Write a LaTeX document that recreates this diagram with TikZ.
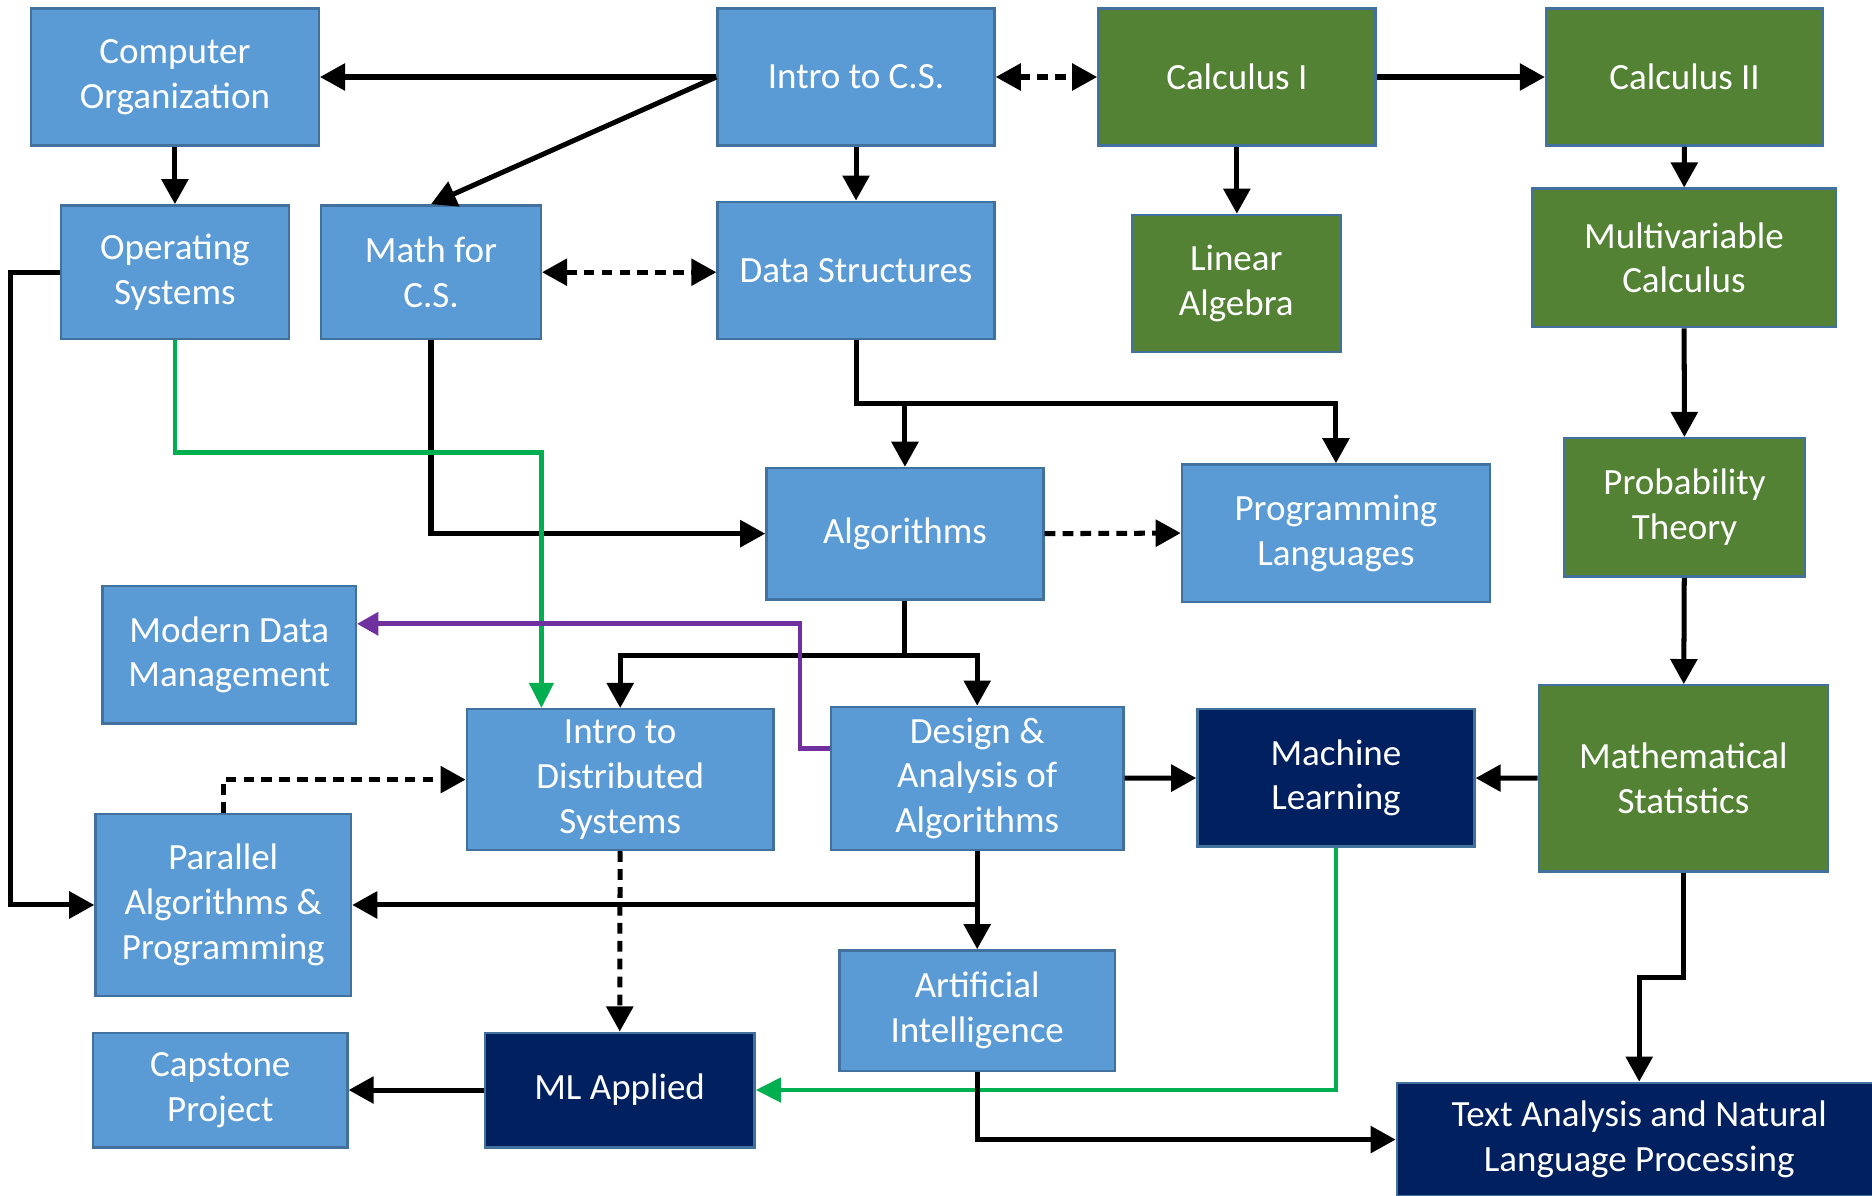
\documentclass[tikz,border=0pt]{standalone}
\usepackage{fontspec}
\setmainfont{Carlito}
\usetikzlibrary{arrows.meta}
\definecolor{csblue}{HTML}{5B9BD5}
\definecolor{mathgreen}{HTML}{548235}
\definecolor{mlnavy}{HTML}{002060}
\definecolor{boxedge}{HTML}{41719C}
\definecolor{greenline}{HTML}{00B050}
\definecolor{purpleline}{HTML}{7030A0}
\newcommand{\coursefont}{\fontsize{31}{37.5}\selectfont}
\tikzstyle{course}=[draw=boxedge,line width=2pt,text=white,align=center,inner sep=0pt,font=\coursefont]
\tikzstyle{csbox}=[course,fill=csblue]
\tikzstyle{mathbox}=[course,fill=mathgreen]
\tikzstyle{mlbox}=[course,fill=mlnavy]
\tikzstyle{prereq}=[line width=4.2pt,-{Triangle[length=21pt,width=22pt]}]
\tikzstyle{optional}=[line width=4.2pt,dash pattern=on 9pt off 6pt,-{Triangle[length=21pt,width=22pt]}]
\tikzstyle{either}=[optional,{Triangle[length=21pt,width=22pt]}-{Triangle[length=21pt,width=22pt]}]
\tikzstyle{greenlink}=[line width=4pt,draw=greenline,-{Triangle[length=21pt,width=20pt,fill=greenline]}]
\tikzstyle{purplelink}=[line width=4pt,draw=purpleline,-{Triangle[length=18pt,width=19pt,fill=purpleline]}]
\newcommand{\course}[7][csbox]{% Syntax: [style] {name} {left} {top} {right} {bottom} {text}
\pgfmathsetmacro{\midx}{(#3+#5)/2}
\pgfmathsetmacro{\midy}{(#4+#6)/2}
\pgfmathsetmacro{\boxw}{#5-#3}
\pgfmathsetmacro{\boxh}{#6-#4}
\node[#1,minimum width=\boxw pt,minimum height=\boxh pt] (#2) at (\midx,\midy) {#7};
}
\begin{document}
\begin{tikzpicture}[x=1pt,y=-1pt]
	\fill[white] (0,0) rectangle (1568,1001);
	\useasboundingbox (0,0) rectangle (1568,1001);
	% top row
	\course{org}{26}{7}{267}{122}{Computer\\Organization}
	\course{intro}{601}{7}{833}{122}{Intro to C.S.}
	\course[mathbox]{calc1}{920}{7}{1152}{122}{Calculus I}
	\course[mathbox]{calc2}{1295}{7}{1527}{122}{Calculus II}
	% second row
	\course{os}{51}{172}{242}{284}{Operating\\Systems}
	\course{mathcs}{269}{172}{453}{284}{Math for\\C.S.}
	\course{ds}{601}{169}{833}{284}{Data Structures}
	\course[mathbox]{linalg}{948}{180}{1123}{295}{Linear\\Algebra}
	\course[mathbox]{multi}{1283}{158}{1538}{274}{Multivariable\\Calculus}
	% middle
	\course{alg}{642}{392}{874}{502}{Algorithms}
	\course{pl}{990}{389}{1248}{504}{Programming\\Languages}
	\course[mathbox]{prob}{1310}{367}{1512}{483}{Probability\\Theory}
	\course{mdm}{86}{491}{298}{606}{Modern Data\\Management}
	\course{ids}{391}{594}{648}{712}{Intro to\\Distributed\\Systems}
	\course{dsgn}{696}{592}{941}{712}{Design \&\\Analysis of\\Algorithms}
	\course[mlbox]{ml}{1003}{594}{1235}{709}{Machine\\Learning}
	\course[mathbox]{stats}{1289}{574}{1531}{730}{Mathematical\\Statistics}
	% bottom
	\course{par}{80}{682}{294}{834}{Parallel\\Algorithms \&\\Programming}
	\course{ai}{703}{796}{934}{897}{Artificial\\Intelligence}
	\course{cap}{78}{865}{291}{961}{Capstone\\Project}
	\course[mlbox]{mlapp}{406}{865}{632}{961}{ML Applied}
	\course[mlbox]{ta}{1170}{907}{1576}{1002}{Text Analysis and Natural\\Language Processing}

	\draw[prereq] (intro.west) -- (intro.west -| org.east);
	\draw[prereq] (intro.west) -- (mathcs.north);
	\draw[either] (intro.east) -- (calc1.west);
	\draw[prereq] (calc1) -- (calc2);
	\draw[prereq] (org) -- (os);
	\draw[prereq] (intro) -- (ds);
	\draw[prereq] (calc1.south) -- (calc1.south |- linalg.north);
	\draw[prereq] (calc2) -- (multi);
	\draw[either] (mathcs.east) -- (mathcs.east -| ds.west);
	\draw[prereq] (multi) -- (prob);
	\draw[prereq] (ds.south) -- ++(0,53) -| (alg.north);
	\draw[prereq] (ds.south) -- ++(0,53) -| (pl.north);
	\draw[prereq] (mathcs.south) |- (alg.west);
	\draw[optional] (alg.east) -- (pl.west);
	\draw[greenlink] (os.south) -- ++(0,94) -| ([xshift=-66pt]ids.north);
	\draw[prereq] (os.west) -- ++(-41,0) |- (par.west);
	\draw[prereq] (prob) -- (stats);
	\draw[prereq] (alg.south) -- ++(0,46) -| (ids.north);
	\draw[prereq] (alg.south) -- ++(0,46) -| (dsgn.north);
	\draw[purplelink] ([yshift=25pt]dsgn.west) -- ++(-25,0) |- ([yshift=26pt]mdm.east);
	\draw[optional] (par.north) |- (ids.west);
	\draw[prereq] (dsgn) -- (ml);
	\draw[prereq] (stats) -- (ml);
	\draw[prereq] (dsgn.south) |- (par.east);
	\draw[prereq] (dsgn) -- (ai);
	\draw[optional] (ids) -- (mlapp);
	\draw[greenlink] (ml.south) |- (mlapp.east);
	\draw[prereq] (mlapp) -- (cap);
	\draw[prereq] (ai.south) |- (ta.west);
	\draw[prereq] (stats.south) -- ++(0,88) -| (ta.north);
\end{tikzpicture}
\end{document}
